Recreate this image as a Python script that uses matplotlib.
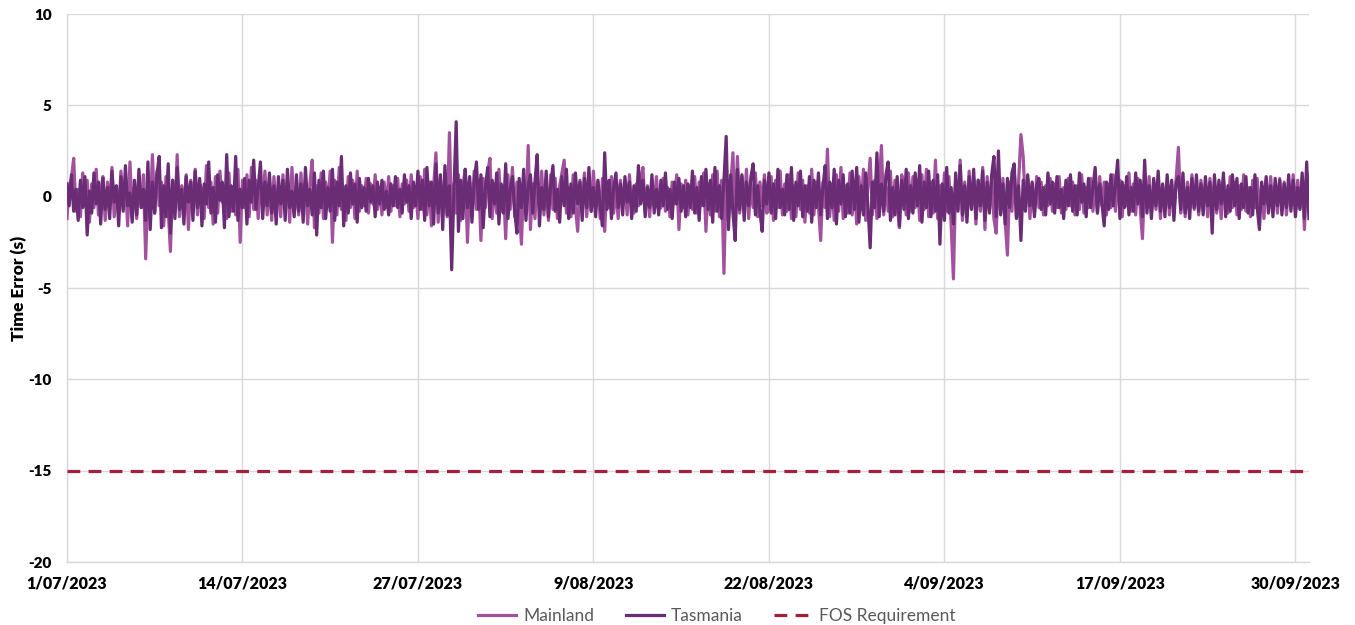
import numpy as np
import matplotlib
matplotlib.use("Agg")
import matplotlib.pyplot as plt
import matplotlib.dates as mdates
from datetime import datetime, timedelta

# ---- data (4-hourly samples, seconds) ----
start = datetime(2023, 7, 1)
step_hours = 4

tasmania = [
    0.7, -0.5, 1.2, -0.8, 0.4, -1.3, 0.9, -0.6, 1.1, -2.1, 0.3, -0.9,
    1.3, -0.4, 0.8, -1.5, 1.0, -0.7, 0.5, -1.2, 1.4, -0.3, 0.6, -1.6,
    1.1, -0.8, 1.7, -0.5, 0.2, -1.4, 0.9, -1.0, 1.5, -0.6, 0.4, -1.3,
    1.9, -1.8, 0.8, -0.9, 1.2, 2.2, -1.7, 0.6, -1.1, 1.8, -2.0, 0.9,
    -1.2, 1.6, -0.7, 0.4, -1.5, 1.1, -0.3, 0.8, -1.3, 1.4, -0.6, 1.0,
    -1.6, 0.7, -0.4, 1.9, -0.9, 0.5, -1.4, 1.2, -0.2, 0.8, -1.7, 2.3,
    -1.1, 0.6, -0.8, 2.2, -1.3, 0.4, -0.6, 1.0, -1.5, 0.9, -0.3, 2.0,
    -0.7, 0.5, 1.9, -1.2, 0.8, -0.5, 1.3, -0.9, 0.6, -1.5, 1.1, -0.4,
    0.9, -1.3, 1.5, -0.6, 0.3, -1.1, 1.2, -0.8, 0.7, -1.4, 1.6, -0.5,
    0.4, -1.0, 1.3, -2.1, 0.9, -0.6, 1.4, -1.2, 0.5, -0.8, 1.5, -1.3,
    0.8, -0.5, 2.2, -1.6, 0.6, -0.9, 1.3, -0.4, 0.7, -1.4, 1.0, -0.6,
    0.5, -0.8, 1.0, -0.3, 0.6, -1.1, 0.8, -0.4, 0.9, -0.7, 0.3, -1.0,
    0.7, -0.5, 1.1, -0.6, 0.4, -0.9, 1.2, -0.3, 0.6, -1.2, 0.8, -0.5,
    1.4, -0.7, 0.9, -1.3, 1.6, -0.5, 0.8, -1.5, 1.8, -0.9, 1.2, -1.8,
    1.7, -1.0, 0.6, -4.0, 0.3, 4.1, -1.9, 0.9, -1.2, 1.5, -0.6, 1.1,
    -1.4, 0.8, 1.9, -0.7, 1.2, -1.7, 0.5, 1.6, -1.1, 0.9, -0.4, 1.3,
    -1.5, 0.7, -0.9, 1.8, -1.2, 0.4, 1.1, -0.8, -2.0, 1.0, -0.6, 1.5,
    -1.3, 0.6, 1.2, -0.9, 0.8, 2.3, -1.6, 0.5, -0.7, 1.4, -1.1, 0.6,
    1.7, -0.8, 0.4, -1.4, 1.1, -0.5, 1.5, -1.2, 0.7, -0.9, 1.3, -0.4,
    0.8, -1.3, 1.0, -0.6, 1.6, -0.8, 0.5, -1.1, 0.9, -0.5, -1.6, 2.4,
    -0.7, 0.9, -1.2, 0.5, 1.3, -0.6, 0.7, -1.0, 1.1, -0.3, 0.8, -1.2,
    0.6, -0.8, 1.7, -0.4, 0.9, -1.1, 0.5, -0.6, 1.2, -0.9, 0.4, -1.0,
    0.9, -0.5, 1.3, -0.7, 0.4, -1.2, 0.8, -0.4, 1.0, -0.8, 0.6, -1.1,
    0.7, -0.6, 1.4, -0.9, 0.5, -1.3, 1.1, -0.5, 1.5, -0.7, 0.9, -1.4,
    1.6, -0.8, 0.6, -1.2, 0.9, 3.3, -1.8, 1.2, -0.9, -2.4, 1.5, -0.7,
    1.2, -1.3, 0.8, -0.5, 1.1, 1.8, -1.0, 0.6, -0.8, -1.9, 0.9, -0.4,
    1.3, -0.9, 0.7, -1.2, 1.5, -0.6, 0.4, -1.0, 1.2, -0.7, 1.6, -1.3,
    0.8, -0.5, 1.4, -1.1, 0.6, -0.8, 1.1, -1.4, 0.9, -0.6, 1.3, -1.0,
    0.5, 1.7, -1.2, 0.8, -0.6, 1.5, -1.5, 0.9, -0.4, 1.2, -1.1, 0.7,
    -0.9, 1.4, -0.7, 1.6, -1.4, 0.6, -1.0, 1.3, -0.5, -2.8, 0.8, -0.6,
    2.4, -1.1, 0.7, -0.8, 1.2, 1.9, -1.3, 0.5, -1.0, 1.1, -1.6, 0.9,
    -0.7, 1.5, -1.2, 0.6, -0.9, 1.3, -0.5, 1.7, -1.4, 0.8, -0.6, 1.4,
    -1.1, 0.9, -0.8, 1.2, -2.6, 0.7, -1.3, 1.6, -0.9, 0.5, -1.5, 1.3,
    -0.8, 1.7, -1.0, 0.6, -1.4, 1.1, -0.7, 1.5, -1.2, 0.9, -0.5, 1.4,
    -1.3, 0.8, -0.9, 1.2, 2.2, -1.1, 2.5, -1.0, 0.7, -1.5, 1.0, -0.6,
    1.3, 1.8, -1.2, 0.6, -2.4, 0.9, -0.8, 1.2, -0.5, 0.8, -1.1, 0.6,
    1.0, -0.7, 0.5, -1.0, 1.3, -0.4, 0.8, -0.9, 1.1, -0.6, 0.4, -1.2,
    0.9, -0.5, 1.2, -0.8, 0.6, -1.0, 1.3, -0.3, 0.7, -1.1, 1.0, -0.6,
    0.5, 1.6, -0.9, 0.7, -0.4, -1.6, 0.8, -0.7, 1.2, -0.5, 0.6, 2.0,
    -1.2, 0.8, -0.6, 1.1, -1.0, 0.5, -0.8, 1.3, -0.4, 0.9, -1.1, 2.0,
    -0.9, 0.6, -1.2, 1.0, -0.5, 1.4, -0.8, 0.7, -1.1, 1.2, -0.6, 0.9,
    -1.3, 0.8, 1.1, -0.7, 1.3, -0.9, 0.5, -1.2, 1.0, -0.6, 1.2, -0.8,
    0.7, -1.0, 1.1, -0.5, 0.8, -2.0, 1.2, -0.7, 0.9, -0.4, 1.3, -1.1,
    0.6, -0.8, 1.2, -0.5, 1.0, -1.2, 0.7, -0.6, 1.1, -0.9, 0.5, -1.0,
    1.2, -0.6, -1.8, 0.8, -0.4, 1.1, -0.9, 0.6, -1.1, 1.0, -0.5, 0.9,
    -1.0, 0.7, -0.6, 1.2, -0.8, 0.9, -1.1, 0.5, -0.7, 1.3, -1.2, 1.9,
    -1.2,
]

mainland = [
    -1.2, 0.6, 1.0, 2.1, -0.8, 0.4, -1.1, 1.3, -0.5, 0.9, -1.4, 0.7,
    -0.6, 1.5, -1.0, 0.3, 1.1, -1.3, 0.8, -0.7, 1.6, -1.1, 0.5, -0.9,
    1.4, -0.4, 0.7, -1.6, 1.9, -0.8, 0.5, -1.2, 0.9, -0.6, 1.2, -3.4,
    0.6, -1.0, 2.3, -0.9, 1.4, -0.5, 0.8, -1.6, 1.1, -0.7, -3.0, 0.9,
    -0.8, 2.3, -1.1, 0.6, -0.5, 1.2, -1.8, 0.9, -0.4, 1.5, -1.0, 0.7,
    0.4, -1.2, 1.7, -0.6, 0.8, -1.5, 1.1, -0.9, 1.4, -0.3, 0.6, -1.2,
    1.3, -0.8, 0.5, -1.0, 1.5, -2.5, 0.9, -0.6, 1.2, -1.1, 1.6, -0.7,
    0.9, -1.2, 0.6, -0.5, 1.4, -1.0, 0.8, -1.3, 1.1, -0.6, 0.5, -1.1,
    1.2, -0.7, 0.9, -1.4, 1.6, -0.9, 0.4, -1.0, 1.3, -0.6, 0.8, -1.5,
    0.7, 2.0, -1.7, 0.6, -0.9, 1.3, -1.2, 0.8, -0.5, 1.4, -2.5, 0.9,
    -1.0, 1.6, -0.7, 0.5, -1.3, 1.1, -0.6, 0.9, -1.2, 1.4, -0.8, 0.6,
    -0.5, 1.0, -0.9, 0.7, -0.4, 1.2, -0.7, 0.5, -1.0, 0.8, -0.6, 1.1,
    -0.8, 0.6, -0.5, 1.0, -1.1, 0.7, -0.4, 0.9, -0.8, 1.2, -0.6, 0.5,
    -1.2, 1.1, -0.7, 1.5, -1.0, 0.8, -1.6, 0.6, 2.4, -1.4, 0.9, -0.8,
    1.3, -1.1, 3.5, -1.6, 0.7, -0.9, 1.2, -1.3, 0.6, 1.5, -2.5, 0.8,
    -1.1, 1.4, -0.7, 0.9, -2.4, 1.0, -0.6, 1.3, 2.1, -1.2, 0.7, -0.9,
    1.5, -0.8, 0.6, -2.3, 1.2, -0.7, 1.6, -1.1, 0.8, -0.5, -2.6, 1.0,
    -0.9, 2.8, -1.8, 0.7, -1.2, 1.1, -0.6, 1.4, -1.0, 0.8, -1.3, 1.2,
    -0.7, 1.0, -1.2, 0.6, 1.3, 2.0, -0.9, 0.5, -1.1, 1.2, -0.6, -1.9,
    0.9, -0.7, 1.3, -1.1, 0.6, -0.8, 1.4, -0.5, 0.8, -1.2, 1.0, -1.9,
    0.8, -0.6, 1.1, -0.9, 0.5, -1.2, 0.9, -0.4, 0.7, -1.0, 1.2, -0.6,
    -0.9, 0.7, -0.5, 1.0, 1.6, -0.8, 0.6, -1.1, 0.9, -0.5, 1.1, -0.7,
    -0.6, 1.0, -0.8, 0.5, -1.1, 0.8, -0.4, 1.2, -1.8, 0.7, -0.6, 0.9,
    -1.0, 0.6, -0.7, 1.1, -0.9, 0.8, -0.5, 1.3, -1.9, 0.7, -1.0, 1.2,
    -0.8, 1.4, -1.1, 0.9, -4.2, 1.0, -1.3, 0.6, 2.4, -1.4, 2.2, -0.9,
    1.1, -0.8, 1.5, -1.2, 0.7, -0.6, 1.3, -1.1, 0.8, -0.5, 1.2, -0.9,
    -0.7, 1.1, -1.3, 0.9, -0.6, 1.4, -1.0, 0.7, -0.8, 1.2, -1.2, 0.6,
    -1.1, 1.3, -0.7, 0.9, -1.4, 0.6, -0.9, 1.5, -1.0, 0.8, -0.5, -2.4,
    0.8, -0.6, 2.6, -1.1, 0.7, -1.3, 1.2, -0.8, 1.6, -1.2, 0.6, -0.9,
    1.3, -1.0, 0.8, -1.5, 1.1, -0.7, 1.5, -1.3, 0.6, 2.1, -1.0, 0.9,
    -1.2, 0.7, 2.8, -1.0, 0.6, -0.8, 1.4, -1.1, 0.9, -0.5, -1.7, 1.2,
    0.6, -1.0, 1.3, -0.8, 1.1, -0.6, 0.9, -1.3, 1.2, -0.7, 1.5, -1.1,
    0.8, -0.9, 2.0, -1.2, 0.6, -1.0, 1.3, -0.8, 1.1, -1.6, -4.5, 0.9,
    -0.7, 2.0, -1.3, 0.8, -1.1, 1.4, -0.6, 1.0, -1.5, 0.9, -0.8, 1.6,
    -1.8, 1.1, -0.7, 0.9, -1.2, -2.0, 1.3, -0.9, 1.0, -1.4, -3.2, 0.8,
    -0.8, 1.5, -1.1, 0.9, 3.4, 2.2, -0.6, 1.0, -1.2, 0.7, -0.9, 1.1,
    -0.6, 0.8, -1.0, 0.6, -0.5, 1.0, -0.8, 0.7, -0.6, 1.1, -0.9, 0.5,
    -0.7, 1.0, -0.5, 0.8, -1.0, 0.6, -0.7, 1.2, -0.9, 0.5, -0.6, 1.0,
    -0.8, 0.6, -0.9, 1.1, -0.5, 0.8, -1.0, 0.7, -0.6, 1.2, -0.8, 0.5,
    0.9, -1.1, 0.6, -0.5, 1.3, -0.8, 0.7, -1.0, 1.0, -0.6, -2.3, 0.8,
    -0.6, 1.1, -0.9, 0.5, -0.7, 1.0, -1.2, 0.6, -0.5, 0.9, -1.0, 0.7,
    -0.8, 1.0, 2.7, -0.9, 0.6, -1.1, 0.8, -0.6, 1.2, -0.7, 0.5, -1.0,
    0.9, -0.6, 0.7, -1.1, 1.0, -0.5, 0.8, -0.9, 0.6, -1.2, 0.9, -0.5,
    -0.9, 1.1, -0.6, 0.8, -1.0, 0.6, -0.7, 1.2, -0.8, 0.5, -1.1, 0.9,
    -0.6, 1.0, -0.8, 0.6, -1.2, 0.9, -0.5, 1.1, -0.7, 0.6, -0.9, 1.0,
    -0.7, 0.8, -1.0, 0.6, -0.5, 1.2, -0.8, 0.9, -0.6, 1.0, -1.8, 1.3,
    0.3,
]

fos_requirement = -15.0
tick_labels = ["1/07/2023", "14/07/2023", "27/07/2023", "9/08/2023",
               "22/08/2023", "4/09/2023", "17/09/2023", "30/09/2023"]
y_ticks = [10, 5, 0, -5, -10, -15, -20]

# ---- figure ----
plt.rcParams['font.family'] = ['Lato', 'DejaVu Sans']
fig = plt.figure(figsize=(13.55, 6.25), dpi=100)
ax = fig.add_axes([0.0494, 0.1008, 0.9166, 0.8768])

times_m = [start + timedelta(hours=step_hours * i) for i in range(len(mainland))]
times_t = [start + timedelta(hours=step_hours * i) for i in range(len(tasmania))]

c_main = '#A2519F'
c_tas = '#6A2C74'
c_fos = '#A51F43'

ax.plot(times_m, mainland, color=c_main, lw=2.3, label='Mainland', zorder=3,
        solid_joinstyle='round')
ax.plot(times_t, tasmania, color=c_tas, lw=2.3, label='Tasmania', zorder=4,
        solid_joinstyle='round')
ax.axhline(fos_requirement, color=c_fos, lw=2.3, ls=(0, (4, 2.6)),
           label='FOS Requirement', zorder=5)

x0 = start
x1 = start + timedelta(days=92)
ax.set_xlim(x0, x1)
ax.set_ylim(-20, 10)

tick_dates = [datetime.strptime(t, "%d/%m/%Y") for t in tick_labels]
ax.set_xticks(tick_dates)
ax.set_xticklabels(tick_labels, fontsize=11.5, fontweight='heavy', color='#000000')
ax.set_yticks(y_ticks)
ax.set_yticklabels([str(v) for v in y_ticks], fontsize=11, fontweight='heavy',
                   color='#000000')
ax.tick_params(axis='both', length=0)
ax.tick_params(axis='x', pad=10)
ax.tick_params(axis='y', pad=11)

ax.grid(True, color='#D9D9D9', lw=1.0)
ax.set_axisbelow(True)
for s in ['top', 'right']:
    ax.spines[s].set_visible(False)
for s in ['left', 'bottom']:
    ax.spines[s].set_color('#D9D9D9')
    ax.spines[s].set_linewidth(1.0)

ax.set_ylabel('Time Error (s)', fontsize=12.5, fontweight='heavy', labelpad=1)

leg = fig.legend(loc='lower center', bbox_to_anchor=(0.529, -0.023), ncol=3,
                 frameon=False, fontsize=12.5, handlelength=2.2,
                 columnspacing=1.8, handletextpad=0.4)
for t in leg.get_texts():
    t.set_color('#595959')

fig.savefig('out.png', dpi=100)
